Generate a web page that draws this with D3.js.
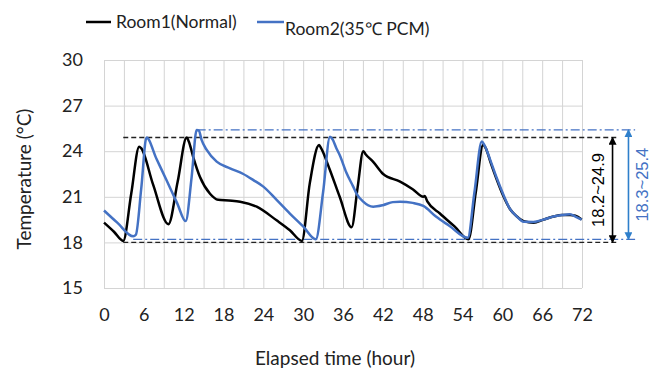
<!DOCTYPE html>
<html>
<head>
<meta charset="utf-8">
<script src="https://d3js.org/d3.v7.min.js"></script>
<style>
  body { margin: 0; background: #fff; }
  svg { display: block; }
  text { font-family: Lato, "Open Sans", sans-serif; fill: #222; }
</style>
</head>
<body>
<div id="chart"></div>
<script>
// elapsed hour / temperature pairs
const room1Hours = [0, 1.5, 2.9, 4.1, 5.3, 5.6, 7.4, 9.7, 11.1, 12.45, 12.8, 13.45, 14.46, 15.97, 17.2, 18.8, 20.5, 23, 26, 28, 29.8,
  31.0, 32.4, 32.7, 34, 35.5, 37.3, 38.2, 39.05, 39.4, 40.55, 42.05, 44.6, 46.5, 48.1, 48.3, 48.7, 50.6, 52.8, 54.9,
  56.0, 57.1, 57.5, 58.2, 59.1, 60.1, 61.15, 62.2, 63.2, 64.7, 66.2, 67.7, 69, 70.2, 71, 71.95];
const room1Temp = [19.3, 18.7, 18.1, 21.2, 24.3, 24.2, 21.8, 19.2, 22.0, 24.9, 24.6, 23.6, 22.3, 21.2, 20.8, 20.75, 20.68, 20.35, 19.45, 18.8, 18.1,
  21.9, 24.4, 24.2, 22.8, 21.0, 19.0, 21.6, 24.0, 23.8, 23.3, 22.5, 22.0, 21.5, 21.0, 21.05, 20.7, 19.9, 19.05, 18.2,
  21.3, 24.4, 24.2, 23.3, 22.2, 21.1, 20.2, 19.7, 19.4, 19.3, 19.5, 19.7, 19.8, 19.8, 19.75, 19.5];

const room2Hours = [0, 2, 4.4, 4.8, 5.6, 6.4, 7.9, 9.44, 11, 12.3, 13.2, 13.96, 14.3, 14.7, 15.47, 16.97, 18.98, 20.98, 22.5, 24.0, 26, 28, 30, 31.9,
  33, 34.04, 34.4, 35, 35.5, 36.5, 37.5, 38.05, 39, 40.55, 42, 43.5, 44.6, 46.5, 48.1, 50, 52, 54.8,
  55.8, 56.9, 57.3, 58.2, 59.1, 60.1, 61.15, 62.2, 63.2, 64.7, 66.2, 67.7, 69, 70.2, 71, 71.95];
const room2Temp = [20.1, 19.3, 18.4, 18.5, 21.5, 24.9, 23.5, 22.07, 20.6, 19.4, 22.3, 25.4, 25.35, 24.74, 24.08, 23.31, 22.87, 22.5, 22.1, 21.67, 20.8, 19.9, 19.05, 18.2,
  21.3, 24.95, 24.8, 24.2, 23.75, 22.6, 21.7, 21.2, 20.7, 20.35, 20.45, 20.65, 20.68, 20.6, 20.4, 19.7, 19.1, 18.3,
  21.3, 24.63, 24.4, 23.4, 22.3, 21.2, 20.2, 19.7, 19.36, 19.35, 19.5, 19.7, 19.8, 19.85, 19.7, 19.5];

const xTicks = [0, 6, 12, 18, 24, 30, 36, 42, 48, 54, 60, 66, 72];
const yTicks = [15, 18, 21, 24, 27, 30];
const seriesNames = ["Room1(Normal)", "Room2(35\u2103 PCM)"];

// range guides: [start hour, end hour, temperature]
const room1Guides = [[2.9, 77.6, 24.9], [2.9, 77.6, 18.0]];
const room2Guides = [[13.96, 80.0, 25.4], [4.4, 80.0, 18.2]];
const rangeLabels = ["18.2~24.9", "18.3~25.4"];
const arrowHours = [76.6, 79.0];
const labelHours = [74.4, 81.1];

const W = 659, H = 376;
const margin = { top: 60, right: 77, bottom: 88, left: 104 };
const iw = W - margin.left - margin.right;
const ih = H - margin.top - margin.bottom;
const black = "#000", blue = "#4472C4", arrowBlue = "#2E7FCB";

const svg = d3.select("#chart").append("svg").attr("width", W).attr("height", H);
const defs = svg.append("defs");
[["ab", black], ["bb", arrowBlue]].forEach(([id, c]) => {
  defs.append("marker").attr("id", id).attr("viewBox", "0 0 10 10")
    .attr("refX", 9).attr("refY", 5).attr("markerWidth", 5).attr("markerHeight", 5)
    .attr("markerUnits", "strokeWidth").attr("orient", "auto-start-reverse")
    .append("path").attr("d", "M0,0L10,5L0,10Z").attr("fill", c);
});

const g = svg.append("g").attr("transform", `translate(${margin.left},${margin.top})`);
const x = d3.scaleLinear().domain([0, 72]).range([0, iw]);
const y = d3.scaleLinear().domain([15, 30]).range([ih, 0]);

// grid
g.append("g").attr("transform", `translate(0,${ih})`)
  .call(d3.axisBottom(x).tickValues(d3.range(0, 73, 3)).tickSize(-ih).tickFormat(""))
  .call(s => s.select(".domain").remove())
  .selectAll("line").attr("stroke", "#d4d4d4");
g.append("g")
  .call(d3.axisLeft(y).tickValues(yTicks).tickSize(-iw).tickFormat(""))
  .call(s => s.select(".domain").remove())
  .selectAll("line").attr("stroke", "#d4d4d4");

// tick labels
g.append("g").attr("transform", `translate(0,${ih})`)
  .call(d3.axisBottom(x).tickValues(xTicks).tickSize(0).tickPadding(20))
  .call(s => s.select(".domain").remove())
  .selectAll("text").style("font-size", "18px").style("font-family", "Lato").attr("fill", "#222");
g.append("g")
  .call(d3.axisLeft(y).tickValues(yTicks).tickSize(0).tickPadding(21))
  .call(s => s.select(".domain").remove())
  .selectAll("text").style("font-size", "18px").style("font-family", "Lato").attr("fill", "#222");

// range guides
const guide = (arr, color, dash) => g.append("g").selectAll("line").data(arr).join("line")
  .attr("x1", d => x(d[0])).attr("x2", d => x(d[1]))
  .attr("y1", d => y(d[2])).attr("y2", d => y(d[2]))
  .attr("stroke", color).attr("stroke-width", 1.3).attr("stroke-dasharray", dash);
guide(room1Guides, "#222", "5,3");
guide(room2Guides, blue, "9,3,2,3");

// series
const line = d3.line().x(d => x(d[0])).y(d => y(d[1])).curve(d3.curveMonotoneX);
g.append("path").datum(d3.zip(room1Hours, room1Temp)).attr("d", line)
  .attr("fill", "none").attr("stroke", black).attr("stroke-width", 2.5).attr("stroke-linejoin", "round");
g.append("path").datum(d3.zip(room2Hours, room2Temp)).attr("d", line)
  .attr("fill", "none").attr("stroke", blue).attr("stroke-width", 2.5).attr("stroke-linejoin", "round");

// range arrows + labels
[[room1Guides, black, "ab", black], [room2Guides, arrowBlue, "bb", blue]].forEach(([gd, c, m, tc], i) => {
  g.append("line")
    .attr("x1", x(arrowHours[i])).attr("x2", x(arrowHours[i]))
    .attr("y1", y(gd[0][2])).attr("y2", y(gd[1][2]))
    .attr("stroke", c).attr("stroke-width", 1.6)
    .attr("marker-start", `url(#${m})`).attr("marker-end", `url(#${m})`);
  const cy = (y(gd[0][2]) + y(gd[1][2])) / 2;
  g.append("text")
    .attr("transform", `translate(${x(labelHours[i])},${cy}) rotate(-90)`)
    .attr("text-anchor", "middle").attr("dy", "0.35em")
    .style("font-family", "'Liberation Sans', Arial, sans-serif").style("font-size", "16.5px")
    .style("fill", tc)
    .text(rangeLabels[i]);
});

// axis titles
svg.append("text").attr("x", margin.left + iw / 2 - 8).attr("y", 365)
  .attr("text-anchor", "middle").style("font-size", "19px").text("Elapsed time (hour)");
svg.append("text").attr("transform", `translate(31,${margin.top + ih / 2 + 5}) rotate(-90)`)
  .attr("text-anchor", "middle").style("font-size", "19px").text("Temperature (\u00B0C)");

// legend
const leg = svg.append("g");
leg.append("line").attr("x1", 86).attr("x2", 111).attr("y1", 22).attr("y2", 22).attr("stroke", black).attr("stroke-width", 2.5);
leg.append("text").attr("x", 116).attr("y", 28).style("font-size", "17.5px").text(seriesNames[0]);
leg.append("line").attr("x1", 257).attr("x2", 284).attr("y1", 22).attr("y2", 22).attr("stroke", blue).attr("stroke-width", 2.5);
leg.append("text").attr("x", 285).attr("y", 35).style("font-size", "17.5px").text(seriesNames[1]);
</script>
</body>
</html>
